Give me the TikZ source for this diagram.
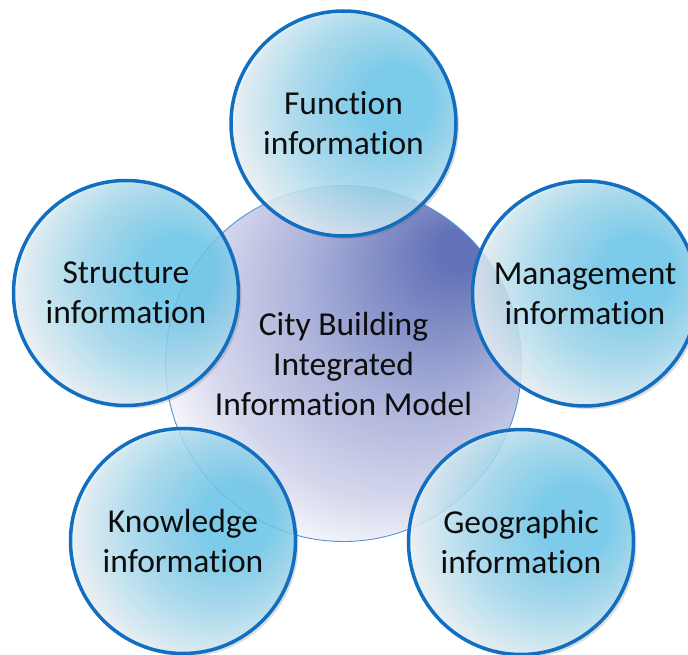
\documentclass[tikz,border=0pt]{standalone}
\usepackage{fontspec}
\setmainfont{Carlito}[Ligatures={NoCommon,NoRequired,NoContextual},Contextuals=NoAlternate]
\usetikzlibrary{shadows}
\definecolor{satcyan}{RGB}{105,200,238}
\definecolor{satcyanB}{RGB}{135,208,238}
\definecolor{satmid}{RGB}{160,217,240}
\definecolor{satlight}{RGB}{192,229,243}
\definecolor{satpale}{RGB}{224,239,246}
\definecolor{satwhite}{RGB}{242,247,250}
\definecolor{satedge}{RGB}{18,110,192}
\definecolor{cdark}{RGB}{100,115,185}
\definecolor{cdarkB}{RGB}{135,146,200}
\definecolor{cmid}{RGB}{172,178,218}
\definecolor{clight}{RGB}{212,215,236}
\definecolor{cpale}{RGB}{242,242,250}
\definecolor{cedge}{RGB}{80,150,215}
\definecolor{txt}{RGB}{13,13,13}
\pgfdeclareradialshading{satshade}{\pgfpoint{14bp}{6bp}}{color(0bp)=(satcyan); color(8bp)=(satcyan); color(14bp)=(satcyanB); color(19bp)=(satmid); color(24bp)=(satlight); color(28.5bp)=(satpale); color(31.5bp)=(satwhite); color(50bp)=(satwhite)}
\pgfdeclareradialshading{centshade}{\pgfpoint{17bp}{17bp}}{color(0bp)=(cdark); color(3bp)=(cdark); color(10bp)=(cdarkB); color(17bp)=(cmid); color(27bp)=(clight); color(32bp)=(cpale); color(36bp)=(white); color(50bp)=(white)}
\tikzset{
  labeltext/.style={font=\fontsize{33.5bp}{40bp}\selectfont, text=txt, align=center, inner sep=0pt},
  satellite/.style={labeltext, circle, minimum size=225bp, draw=satedge, line width=3.5bp,
    shading=satshade, fill opacity=0.82, text opacity=1,
    drop shadow={shadow xshift=3bp, shadow yshift=-3bp, opacity=0.22, fill=black!60}},
  centre/.style={labeltext, circle, minimum size=356bp, draw=cedge, line width=0.9bp, shading=centshade}
}
\begin{document}
\begin{tikzpicture}[x=1bp, y=-1bp]
\useasboundingbox (0,0) rectangle (688,655);
\clip (0,0) rectangle (688,655);
\node[centre] (c) at (343.5,363.5) {City Building\\Integrated\\Information Model};
\node[satellite] (f) at (343.5,123.5) {Function\\information};
\node[satellite] (s) at (126,293) {Structure\\information};
\node[satellite] (m) at (585,293.5) {Management\\information};
\node[satellite] (k) at (183,541) {Knowledge\\information};
\node[satellite] (g) at (521,542) {Geographic\\information};
\end{tikzpicture}
\end{document}
